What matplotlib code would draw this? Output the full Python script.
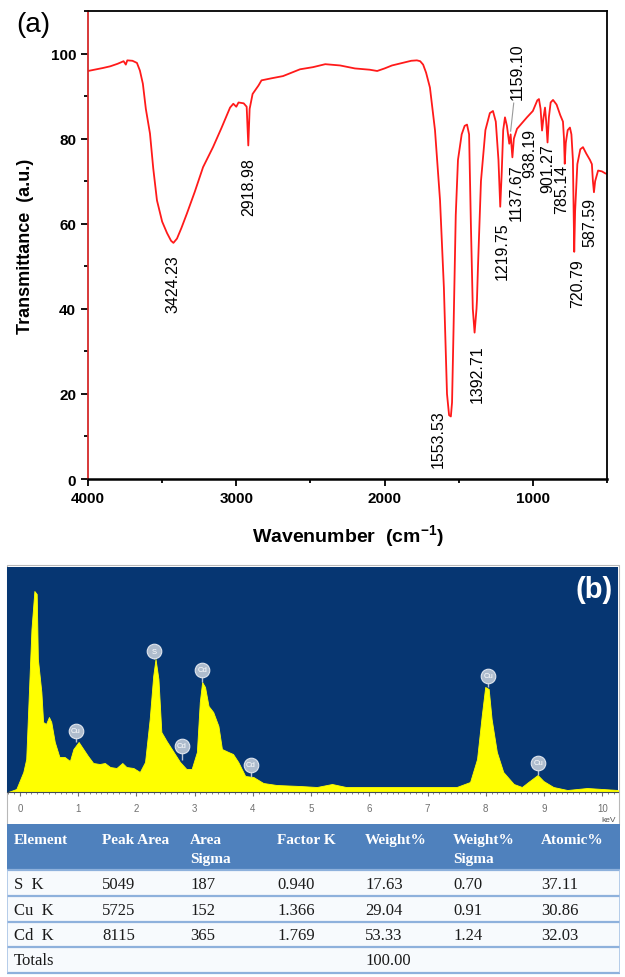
import matplotlib
matplotlib.use('Agg')
import matplotlib.pyplot as plt
from matplotlib.patches import Rectangle
from matplotlib.ticker import MultipleLocator

plt.rcParams.update({'font.family': 'Liberation Sans',
                     'mathtext.fontset': 'custom',
                     'mathtext.rm': 'Liberation Sans',
                     'mathtext.bf': 'Liberation Sans:bold'})

# ---------------- (a) FTIR data ----------------
wn = [4000, 3900, 3850, 3800, 3760, 3745, 3735, 3700, 3670, 3650, 3630, 3610, 3582, 3560,
      3535, 3500, 3467, 3440, 3424, 3400, 3370, 3333, 3280, 3224, 3157, 3100, 3042, 3020,
      3000, 2985, 2950, 2930, 2919, 2910, 2890, 2870, 2850, 2830, 2760, 2685, 2570, 2483,
      2400, 2300, 2200, 2100, 2050, 2000, 1950, 1880, 1820, 1782, 1760, 1740, 1720, 1694,
      1660, 1626, 1600, 1579, 1565, 1553, 1545, 1535, 1520, 1505, 1480, 1460, 1444, 1430,
      1418, 1405, 1393, 1380, 1377, 1370, 1350, 1320, 1290, 1269, 1250, 1232, 1220, 1210,
      1200, 1188, 1175, 1159, 1150, 1138, 1128, 1107, 1040, 1000, 970, 959, 948, 938,
      928, 918, 910, 901, 892, 880, 864, 840, 815, 797, 790, 785, 778, 765, 750, 740,
      730, 721, 715, 700, 680, 662, 640, 615, 602, 595, 588, 580, 560, 534, 510, 500]
trans = [95.9, 96.6, 97.0, 97.6, 98.2, 97.4, 98.4, 98.3, 97.8, 96.0, 92.9, 87.0, 81.2, 73.0,
         65.5, 60.5, 57.8, 56.0, 55.5, 56.5, 59.0, 62.4, 67.5, 73.3, 78.0, 82.5, 87.3, 88.2,
         87.5, 88.5, 88.3, 87.5, 78.4, 87.0, 90.5, 91.5, 92.5, 93.7, 94.2, 94.7, 96.3, 96.8,
         97.5, 97.2, 96.5, 96.2, 95.9, 96.5, 97.2, 97.8, 98.3, 98.4, 98.2, 97.4, 95.5, 92.0,
         82.0, 65.5, 45.0, 20.0, 15.0, 14.7, 18.0, 35.0, 62.0, 75.0, 81.0, 83.0, 83.3, 81.0,
         60.0, 40.0, 34.4, 40.0, 42.0, 50.0, 70.0, 82.0, 86.0, 86.5, 84.0, 75.0, 64.0, 72.0,
         82.0, 85.0, 83.0, 78.8, 81.0, 75.6, 80.0, 82.3, 85.0, 86.5, 89.0, 89.3, 87.0, 81.9,
         85.0, 87.3, 84.0, 79.1, 85.0, 88.5, 89.1, 88.0, 85.5, 84.0, 80.0, 74.1, 79.0, 82.0,
         82.6, 81.0, 75.0, 53.4, 63.0, 74.0, 77.5, 78.0, 76.5, 75.0, 74.0, 70.0, 67.4, 70.0,
         72.5, 72.3, 71.8, 71.8]

peak_labels = ['3424.23', '2918.98', '1553.53', '1392.71', '1219.75', '1159.10', '1137.67',
               '938.19', '901.27', '785.14', '720.79', '587.59']
peak_wn = [3424, 2919, 1553, 1393, 1220, 1159, 1138, 938, 901, 785, 721, 588]
peak_t = [55.5, 78.4, 14.7, 34.4, 64.0, 78.8, 75.6, 81.9, 79.1, 74.1, 53.4, 67.4]
# label offsets in pixels (dx, dy)
label_off = [(0, -11), (0, -12), (-13, 7), (3, -12), (2, -15), (8, 45), (4, -6),
             (-12, 3), (0, -1), (-3, 0), (3, -6), (-4, -5)]

# ---------------- (b) EDS data ----------------
kev = [-0.2, -0.06, 0.06, 0.11, 0.2, 0.25, 0.29, 0.31, 0.37, 0.40, 0.45, 0.50, 0.54, 0.60,
       0.68, 0.77, 0.86, 0.92, 1.01, 1.09, 1.17, 1.26, 1.37, 1.46, 1.55, 1.66, 1.76, 1.83,
       1.95, 2.06, 2.15, 2.23, 2.29, 2.33, 2.38, 2.43, 2.52, 2.63, 2.75, 2.86, 2.95, 3.04,
       3.09, 3.13, 3.18, 3.24, 3.32, 3.41, 3.47, 3.58, 3.66, 3.75, 3.87, 4.01, 4.18, 4.41,
       4.81, 5.1, 5.36, 5.6, 6.5, 7.5, 7.73, 7.85, 7.93, 7.99, 8.05, 8.10, 8.19, 8.30, 8.48,
       8.62, 8.73, 8.89, 8.99, 9.16, 9.4, 9.74, 10.27]
counts = [0, 3, 20, 33, 163, 201, 198, 133, 100, 70, 68, 75, 70, 50,
          35, 35, 31, 43, 50, 43, 36, 29, 28, 29, 25, 24, 29, 25,
          24, 20, 30, 73, 116, 133, 113, 60, 51, 41, 30, 23, 23, 40,
          90, 110, 105, 86, 80, 66, 43, 40, 38, 30, 16, 15, 9, 7,
          6, 5, 8, 5, 5, 5, 10, 33, 76, 105, 103, 73, 40, 20, 8,
          5, 10, 17, 11, 5, 2, 4, 2]

el_names = ['Cu', 'S', 'Cd', 'Cd', 'Cd', 'Cu', 'Cu']
el_kev = [0.96, 2.31, 2.78, 3.13, 3.97, 8.04, 8.90]
el_peak = [50, 133, 32, 110, 15, 105, 17]
el_mark = [61, 141, 46, 122, 27, 116, 29]

# ---------------- table data ----------------
headers = ['Element', 'Peak Area', 'Area\nSigma', 'Factor K', 'Weight%', 'Weight%\nSigma', 'Atomic%']
elements = ['S  K', 'Cu  K', 'Cd  K']
peak_area = [5049, 5725, 8115]
area_sigma = [187, 152, 365]
factor_k = [0.940, 1.366, 1.769]
weight_pct = [17.63, 29.04, 53.33]
weight_sigma = [0.70, 0.91, 1.24]
atomic_pct = [37.11, 30.86, 32.03]
weight_total = 100.00

W, H = 625, 978
fig = plt.figure(figsize=(W / 100, H / 100), dpi=100)

def box(x0, y0, x1, y1):
    # pixel box (top-left origin) -> figure fraction
    return [x0 / W, 1 - y1 / H, (x1 - x0) / W, (y1 - y0) / H]

# ================= (a) =================
ax1 = fig.add_axes(box(88, 12, 607, 480))
ax1.plot(wn, trans, color='#ff1a1a', lw=1.3)
ax1.set_xlim(4000, 500)
ax1.set_ylim(0, 110)
ax1.xaxis.set_major_locator(MultipleLocator(1000))
ax1.xaxis.set_minor_locator(MultipleLocator(500))
ax1.yaxis.set_major_locator(MultipleLocator(20))
ax1.yaxis.set_minor_locator(MultipleLocator(10))
ax1.tick_params(which='both', direction='out', width=1.3, labelsize=11)
ax1.tick_params(which='major', length=5)
ax1.tick_params(which='minor', length=3)
for lab in ax1.get_xticklabels() + ax1.get_yticklabels():
    lab.set_fontweight('bold')
for s in ax1.spines.values():
    s.set_linewidth(1.3)
ax1.spines['left'].set_color('#d42a2a')
ax1.spines['bottom'].set_linewidth(1.8)
ax1.set_xlabel(r'Wavenumber  (cm$^{\mathbf{-1}}$)', fontsize=14, fontweight='bold', labelpad=13)
ax1.set_ylabel('Transmittance  (a.u.)', fontsize=13, fontweight='bold', labelpad=12)

for i, txt in enumerate(peak_labels):
    dx, dy = label_off[i]
    if txt == '1159.10':
        ax1.annotate(txt, (peak_wn[i], peak_t[i]), xytext=(dx, dy), textcoords='offset pixels',
                     rotation=90, ha='center', va='bottom', fontsize=11.5,
                     arrowprops=dict(arrowstyle='-', color='#999999', lw=0.8,
                                     shrinkA=1, shrinkB=9))
    else:
        ax1.annotate(txt, (peak_wn[i], peak_t[i]), xytext=(dx, dy), textcoords='offset pixels',
                     rotation=90, ha='center', va='top', fontsize=11.5)

fig.text(33 / W, 1 - 25 / H, '(a)', fontsize=20, ha='center', va='center')

# ================= (b) =================
frame = Rectangle((7 / W, 1 - 826 / H), 612 / W, 260 / H, transform=fig.transFigure,
                  fc='white', ec='#b8b8b8', lw=0.8, zorder=-5)
fig.patches.append(frame)
ax2 = fig.add_axes(box(7, 568, 618, 793))
ax2.set_zorder(2)
ax2.set_facecolor('#063672')
ax2.fill_between(kev, 0, counts, color='#ffff00', lw=0.6, ec='#ffff00')
ax2.set_xlim(-0.22, 10.27)
ax2.set_ylim(0, 225)
ax2.set_yticks([])
ax2.xaxis.set_major_locator(MultipleLocator(1))
ax2.xaxis.set_minor_locator(MultipleLocator(0.1))
ax2.tick_params(axis='x', which='both', colors='#707070', labelsize=7, direction='out', pad=5)
ax2.tick_params(axis='x', which='major', length=3, width=0.8)
ax2.tick_params(axis='x', which='minor', length=1.5, width=0.6)
for side in ['top', 'left', 'right']:
    ax2.spines[side].set_visible(False)
ax2.spines['bottom'].set_color('#404a58')

ax2.vlines(el_kev, el_peak, el_mark, color='#b8c4d4', lw=1)
ax2.scatter(el_kev, el_mark, s=110, color='#aebccd', edgecolors='#e0e6ee', linewidths=0.8, zorder=3)
for name, x, y in zip(el_names, el_kev, el_mark):
    ax2.text(x, y, name, fontsize=5.5, color='white', ha='center', va='center', zorder=4)

ax2.text(0.961, 0.9, '(b)', transform=ax2.transAxes, fontsize=21, fontweight='bold',
         color='white', ha='center', va='center')
fig.text(616 / W, 1 - 821 / H, 'keV', fontsize=6, color='#555555', ha='right', va='center')

# ================= table =================
ax3 = fig.add_axes(box(7, 825, 620, 976))
ax3.set_xlim(7, 620)
ax3.set_ylim(976, 825)
ax3.axis('off')
ax3.add_patch(Rectangle((7, 825), 613, 46, fc='#4f81bd', ec='none'))
ax3.add_patch(Rectangle((7, 871), 613, 103, fc='#f7fafd', ec='none'))
row_lines = [871, 897, 923, 948, 974]
ax3.hlines(row_lines, 7, 620, color='#8eb1dc', lw=1.6)
ax3.vlines([7.5, 619.5], 871, 974, color='#a9c4e6', lw=1.2)

col_x = [14, 102, 190, 277, 365, 453, 541]
tfont = 'Liberation Serif'
for x, h in zip(col_x, headers):
    for j, line in enumerate(h.split('\n')):
        ax3.text(x, 841 + 19 * j, line, family=tfont, fontsize=11, fontweight='bold',
                 color='white', ha='left', va='center')

row_y = [885, 911, 936]
for i in range(len(elements)):
    cells = [elements[i], f'{peak_area[i]}', f'{area_sigma[i]}', f'{factor_k[i]:.3f}',
             f'{weight_pct[i]:.2f}', f'{weight_sigma[i]:.2f}', f'{atomic_pct[i]:.2f}']
    for x, c in zip(col_x, cells):
        ax3.text(x, row_y[i], c, family=tfont, fontsize=12, color='#1a1a1a', ha='left', va='center')
ax3.text(col_x[0], 961, 'Totals', family=tfont, fontsize=12, color='#1a1a1a', ha='left', va='center')
ax3.text(col_x[4], 961, f'{weight_total:.2f}', family=tfont, fontsize=12, color='#1a1a1a',
         ha='left', va='center')

fig.savefig('out.png', dpi=100)
